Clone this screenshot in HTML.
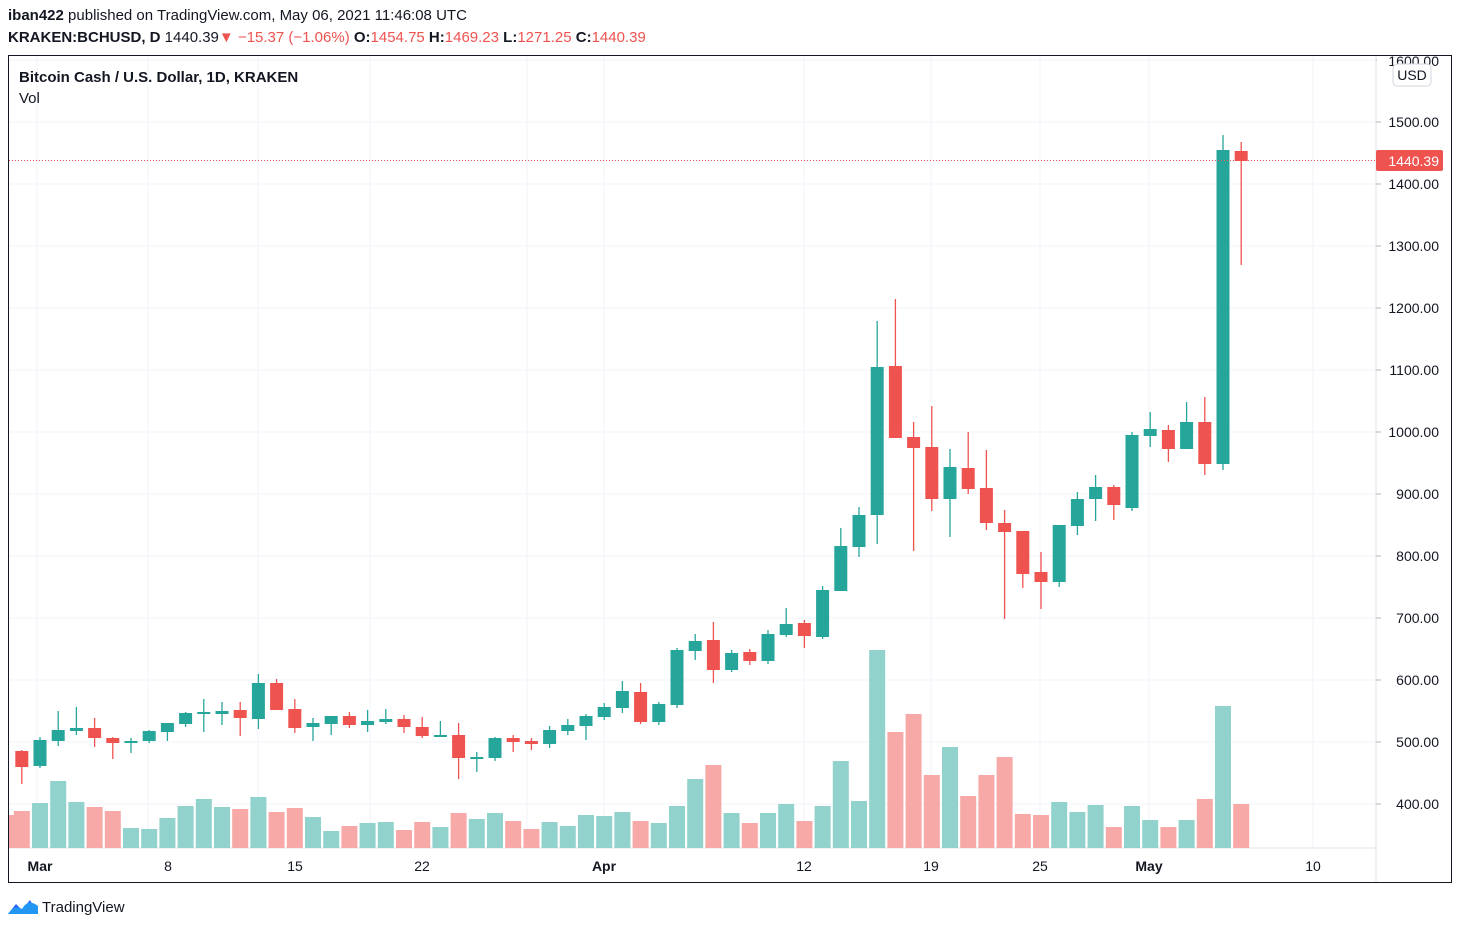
<!DOCTYPE html>
<html><head><meta charset="utf-8"><style>
body{margin:0;background:#fff;width:1460px;height:930px;overflow:hidden;font-family:"Liberation Sans",sans-serif;}
#h1{position:absolute;left:8px;top:7px;font-size:15px;color:#131722;}
#h2{position:absolute;left:8px;top:29px;font-size:15px;font-weight:bold;color:#131722;}
.r{color:#ef5350}
svg{position:absolute;left:0;top:0}
</style></head><body>
<div id="h1"><b>iban422</b> published on TradingView.com, May 06, 2021 11:46:08 UTC</div>
<div id="h2">KRAKEN:BCHUSD, D <span style="font-weight:normal">1440.39</span><span class="r">▼</span> <span class="r" style="font-weight:normal">−15.37 (−1.06%)</span> O:<span class="r" style="font-weight:normal">1454.75</span> H:<span class="r" style="font-weight:normal">1469.23</span> L:<span class="r" style="font-weight:normal">1271.25</span> C:<span class="r" style="font-weight:normal">1440.39</span></div>
<svg id="s" width="1460" height="930" xmlns="http://www.w3.org/2000/svg"></svg>
<script>
var s=document.getElementById('s'),g='',o='';
g+='<rect x="8.5" y="55.5" width="1443" height="827" fill="none" stroke="#131722" stroke-width="1"/>';
for(var p=400;p<=1600;p+=100){var y=122+(1500-p)*0.62;g+='<line x1="9" x2="1376" y1="'+y+'" y2="'+y+'" stroke="#f0f3fa"/>';
o+='<line x1="1376" x2="1381" y1="'+y+'" y2="'+y+'" stroke="#b2b5be"/>';
o+='<text x="1439" y="'+(y+5)+'" font-size="14" text-anchor="end" fill="#131722">'+p+'.00</text>';}
[37,148,258,370,527,604,804,931,1040,1149,1313].forEach(function(x){g+='<line x1="'+x+'" x2="'+x+'" y1="56" y2="848" stroke="#f0f3fa"/>';});
g+='<line x1="1376" x2="1376" y1="56" y2="882" stroke="#e0e3eb"/><line x1="9" x2="1376" y1="848" y2="848" stroke="#e0e3eb"/>';
o+='<rect x="1377" y="56" width="74" height="10" fill="#fff"/><text x="1439" y="66" font-size="14" text-anchor="end" fill="#131722">1600.00</text>';
o+='<rect x="1393" y="64" width="38" height="22" rx="4" fill="#fff" stroke="#d1d4dc"/><text x="1412" y="80" font-size="14" text-anchor="middle" fill="#131722">USD</text>';
var c=[[-1,'r',751,767,750,784,811],[0,'g',740,766,737,768,803],[1,'g',730,741,711,746,781],[2,'g',728,731,707,735,802],[3,'r',728,738,718,747,807],[4,'r',738,743,737,759,811],[5,'g',741,743,738,753,828],[6,'g',731,741,730,743,829],[7,'g',723,732,723,741,818],[8,'g',713,724,712,727,806],[9,'g',712,714,699,732,799],[10,'g',711,714,702,725,807],[11,'r',710,718,702,736,809],[12,'g',683,719,674,729,797],[13,'r',683,710,679,710,812],[14,'r',709,728,699,733,808],[15,'g',723,727,718,741,817],[16,'g',716,724,716,735,831],[17,'r',716,725,712,728,826],[18,'g',721,725,710,732,823],[19,'g',719,722,709,724,822],[20,'r',719,727,715,733,830],[21,'r',727,736,717,738,822],[22,'g',735,736,721,737,827],[23,'r',735,758,723,779,813],[24,'g',757,759,752,772,819],[25,'g',738,758,737,761,813],[26,'r',738,742,735,752,821],[27,'r',741,744,738,750,829],[28,'g',730,744,726,748,822],[29,'g',725,731,719,735,826],[30,'g',716,726,714,740,815],[31,'g',707,717,703,720,816],[32,'g',691,708,681,713,812],[33,'r',692,722,683,724,821],[34,'g',704,722,702,725,823],[35,'g',650,705,648,708,806],[36,'g',641,651,634,660,779],[37,'r',640,670,622,683,765],[38,'g',653,670,650,672,813],[39,'r',652,661,649,665,823],[40,'g',634,661,630,664,813],[41,'g',624,635,608,637,804],[42,'r',623,636,620,648,821],[43,'g',590,637,586,639,806],[44,'g',546,591,528,591,761],[45,'g',515,547,507,557,801],[46,'g',367,515,321,544,650],[47,'r',366,438,299,438,732],[48,'r',437,448,422,551,714],[49,'r',447,499,406,511,775],[50,'g',467,499,449,537,747],[51,'r',468,489,432,494,796],[52,'r',488,523,450,530,775],[53,'r',523,532,510,619,757],[54,'r',531,574,531,588,814],[55,'r',572,582,552,609,815],[56,'g',525,582,525,587,802],[57,'g',499,526,492,535,812],[58,'g',487,499,475,521,805],[59,'r',487,505,485,520,827],[60,'g',435,508,432,511,806],[61,'g',429,436,412,447,820],[62,'r',430,449,425,462,827],[63,'g',422,449,402,449,820],[64,'r',422,464,397,475,799],[65,'g',150,464,135,470,706],[66,'r',151,161,142,265,804]];
var v='<rect x="9" y="815" width="5" height="33" fill="#f7a9a7"/>';
c.forEach(function(a){var x=40+a[0]*18.2;var col=a[1]=='g'?'#26a69a':'#ef5350';var vc=a[1]=='g'?'#92d2cc':'#f7a9a7';
var vx=Math.max(x-8,9);v+='<rect x="'+vx+'" y="'+a[6]+'" width="'+(x+8-vx)+'" height="'+(848-a[6])+'" fill="'+vc+'"/>';
o+='<line x1="'+x+'" x2="'+x+'" y1="'+a[4]+'" y2="'+a[5]+'" stroke="'+col+'" stroke-width="1.3"/>';
var bx=Math.max(x-6.5,9);o+='<rect x="'+bx+'" y="'+a[2]+'" width="'+(x+6.5-bx)+'" height="'+Math.max(a[3]-a[2],2)+'" fill="'+col+'"/>';});
o=g+v+o;
o+='<line x1="9" x2="1376" y1="160.5" y2="160.5" stroke="#ef5350" stroke-dasharray="1,2"/>';
o+='<rect x="1376" y="150" width="67" height="21" rx="2" fill="#ef5350"/><text x="1439" y="166" font-size="14" text-anchor="end" fill="#fff">1440.39</text>';
[['Mar',40,1],['8',168],['15',295],['22',422],['Apr',604,1],['12',804],['19',931],['25',1040],['May',1149,1],['10',1313]].forEach(function(t){o+='<text x="'+t[1]+'" y="871" font-size="14" text-anchor="middle" fill="#131722"'+(t[2]?' font-weight="bold"':'')+'>'+t[0]+'</text>';});
o+='<text x="19" y="82" font-size="15" font-weight="bold" fill="#131722">Bitcoin Cash / U.S. Dollar, 1D, KRAKEN</text>';
o+='<text x="19" y="103" font-size="15" fill="#131722">Vol</text>';
o+='<path d="M8 914 L16 904 L22 910 L30 900 L38 914 Z" fill="#2962ff"/><path d="M8 914 Q14 904 22 909 Q28 898 38 906 L38 914Z" fill="#2196f3"/>';
o+='<text x="42" y="912" font-size="15" fill="#131722">TradingView</text>';
s.innerHTML=o;
</script>
</body></html>
